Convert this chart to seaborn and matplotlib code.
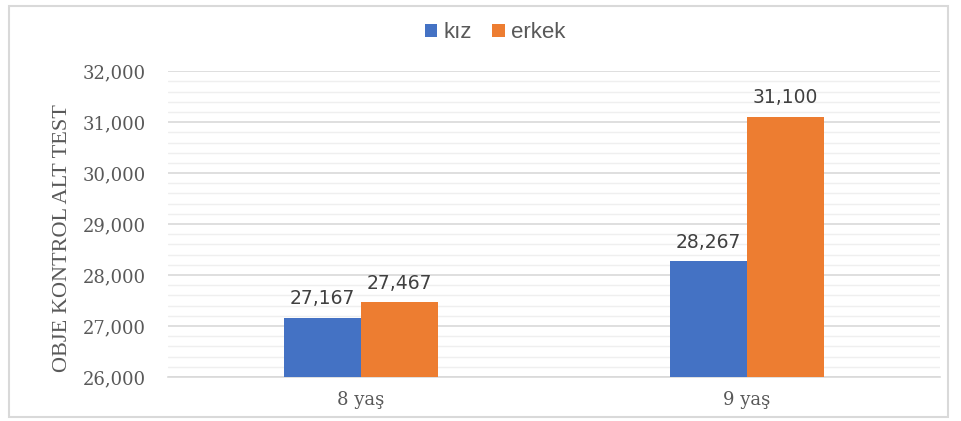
import pandas as pd
import seaborn as sns
import matplotlib.pyplot as plt
from matplotlib.patches import Rectangle
from matplotlib.ticker import MultipleLocator, FuncFormatter

# values
ages = ['8 yaş', '9 yaş']
groups = ['kız', 'erkek']
kiz_values = [27167, 28267]
erkek_values = [27467, 31100]
bar_colors = ['#4472C4', '#ED7D31']

df = pd.DataFrame({
    'yas': ages * 2,
    'cinsiyet': [groups[0]] * 2 + [groups[1]] * 2,
    'deger': kiz_values + erkek_values,
})

sns.set_style('white')
plt.rcParams['font.family'] = ['DejaVu Sans']

fig = plt.figure(figsize=(9.61, 4.21), dpi=100)
ax = fig.add_axes([0.1748, 0.1045, 0.8032, 0.7265])

sns.barplot(data=df, x='yas', y='deger', hue='cinsiyet', hue_order=groups,
            palette=bar_colors, width=0.4, saturation=1, linewidth=0,
            ax=ax, zorder=3)

ax.set_ylim(26000, 32000)
ax.set_xlim(-0.5, 1.5)
ax.yaxis.set_major_locator(MultipleLocator(1000))
ax.yaxis.set_minor_locator(MultipleLocator(200))
ax.yaxis.set_major_formatter(FuncFormatter(lambda v, p: f'{v:,.0f}'))
ax.grid(axis='y', which='major', color='#D9D9D9', lw=1.2, zorder=0)
ax.grid(axis='y', which='minor', color='#EFEFEF', lw=1.0, zorder=0)
ax.set_axisbelow(True)

for s in ['top', 'right', 'left']:
    ax.spines[s].set_visible(False)
ax.spines['bottom'].set_color('#D9D9D9')
ax.spines['bottom'].set_linewidth(1.2)

ax.tick_params(axis='both', which='both', length=0, colors='#595959')
for lab in ax.get_yticklabels() + ax.get_xticklabels():
    lab.set_family('DejaVu Serif')
    lab.set_fontsize(13)
ax.tick_params(axis='y', pad=16)
ax.tick_params(axis='x', pad=10)

ax.set_xlabel('')
ax.set_ylabel('OBJE KONTROL ALT TEST', family='Liberation Serif', fontsize=16,
              color='#595959')
ax.yaxis.set_label_coords(-0.124, 0.454)

for cont in ax.containers:
    ax.bar_label(cont, labels=[f'{v:,.0f}' for v in cont.datavalues],
                 padding=7, fontsize=13.5, color='#404040')

ax.legend(loc='center', bbox_to_anchor=(0.424, 1.125), ncol=2, frameon=False,
          handlelength=0.55, handleheight=0.55, handletextpad=0.3, columnspacing=0.9,
          prop={'family': 'Liberation Sans', 'size': 16},
          labelcolor='#595959')

fig.patches.append(Rectangle((9 / 961, 4 / 421), 939 / 961, 411 / 421,
                             transform=fig.transFigure, fill=False,
                             edgecolor='#D9D9D9', lw=1.5))

plt.savefig('out.png', dpi=100)
